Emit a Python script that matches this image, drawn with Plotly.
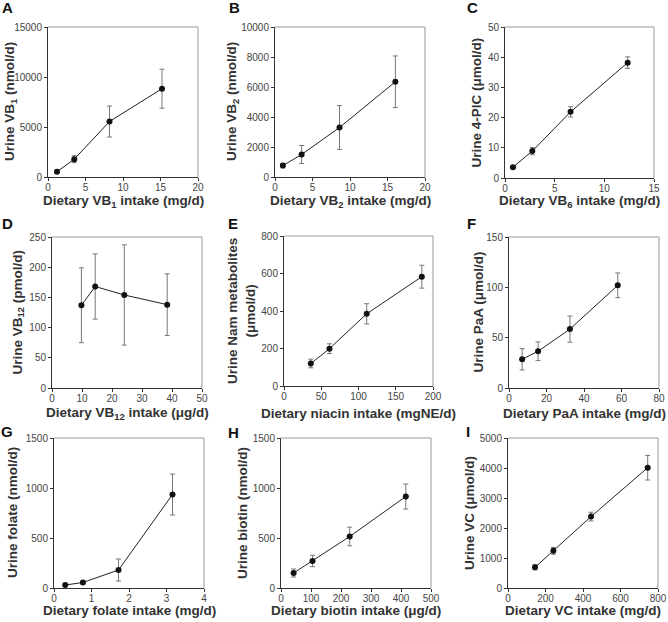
import plotly.graph_objects as go

W, H = 668, 622

# ---------------- data ----------------
a_x = [1.2, 3.5, 8.2, 15.2]
a_y = [530, 1780, 5550, 8830]
a_err = [150, 350, 1550, 1950]

b_x = [1.05, 3.55, 8.6, 16.05]
b_y = [760, 1500, 3300, 6350]
b_err = [150, 600, 1460, 1720]

c_x = [0.8, 2.75, 6.6, 12.35]
c_y = [3.6, 8.9, 21.9, 38.2]
c_err = [0.4, 1.2, 1.7, 1.9]

d_x = [9.8, 14.4, 24.1, 38.4]
d_y = [137, 168, 154, 138]
d_err = [62, 54, 83, 51]

e_x = [36, 61, 111, 185]
e_y = [120, 199, 385, 583]
e_err = [23, 26, 54, 61]

f_x = [7, 15.5, 32.5, 58]
f_y = [28.5, 36.5, 58.5, 102]
f_err = [10.6, 9.3, 13, 12.3]

g_x = [0.3, 0.77, 1.72, 3.16]
g_y = [30, 55, 180, 935]
g_err = [10, 12, 110, 205]

h_x = [42, 105, 229, 416]
h_y = [150, 270, 515, 915]
h_err = [40, 57, 93, 125]

i_x = [144, 242, 443, 745]
i_y = [690, 1240, 2380, 4010]
i_err = [85, 115, 145, 410]

letters = ["A", "B", "C", "D", "E", "F", "G", "H", "I"]
x_titles = [
    "Dietary VB<sub>1</sub> intake (mg/d)",
    "Dietary VB<sub>2</sub> intake (mg/d)",
    "Dietary VB<sub>6</sub> intake (mg/d)",
    "Dietary VB<sub>12</sub> intake (μg/d)",
    "Dietary niacin intake (mgNE/d)",
    "Dietary PaA intake (mg/d)",
    "Dietary folate intake (mg/d)",
    "Dietary biotin intake (μg/d)",
    "Dietary VC intake (mg/d)",
]
y_titles = [
    "Urine VB<sub>1</sub> (nmol/d)",
    "Urine VB<sub>2</sub> (nmol/d)",
    "Urine 4-PIC (μmol/d)",
    "Urine VB<sub>12</sub> (pmol/d)",
    "Urine Nam metabolites<br>(μmol/d)",
    "Urine PaA (μmol/d)",
    "Urine folate (nmol/d)",
    "Urine biotin (nmol/d)",
    "Urine VC (μmol/d)",
]
x_ranges = [[0, 20], [0, 20], [0, 15], [0, 50], [0, 200], [0, 80], [0, 4], [0, 500], [0, 800]]
x_dticks = [5, 5, 5, 10, 50, 20, 1, 100, 200]
y_ranges = [[0, 15000], [0, 10000], [0, 50], [0, 250], [0, 800], [0, 150], [0, 1500], [0, 1500], [0, 5000]]
y_dticks = [5000, 2000, 10, 50, 200, 50, 500, 500, 1000]

series = [(a_x, a_y, a_err), (b_x, b_y, b_err), (c_x, c_y, c_err),
          (d_x, d_y, d_err), (e_x, e_y, e_err), (f_x, f_y, f_err),
          (g_x, g_y, g_err), (h_x, h_y, h_err), (i_x, i_y, i_err)]

# ---------------- layout geometry (pixels) ----------------
boxes = [  # left, right, top, bottom
    (48, 198, 27, 177), (275, 425, 27, 177), (505, 654, 27, 178),
    (52, 202, 237, 388), (284, 433, 236, 386), (509, 659, 237, 388),
    (54, 204, 438, 588), (281, 431, 438, 588), (508, 658, 438, 588),
]
ytitle_x = [10, 232, 476, 18, 241, 478, 12, 242, 469]
xtitle_y = [201, 201, 201, 413, 413, 413, 610, 610, 610]
letter_pos = [(7, 8), (234, 8), (472, 8), (7, 224), (233, 224), (471, 223),
              (7, 431), (233, 432), (468, 431)]

FONT = "Liberation Sans, Arial, sans-serif"

fig = go.Figure()
layout = dict(
    width=W, height=H, margin=dict(l=0, r=0, t=0, b=0, autoexpand=False),
    paper_bgcolor="white", plot_bgcolor="white", showlegend=False,
    font=dict(family=FONT, size=10, color="#444"),
)
annotations = []
shapes = []

for k in range(9):
    xs, ys, es = series[k]
    sfx = "" if k == 0 else str(k + 1)
    fig.add_trace(go.Scatter(
        x=xs, y=ys, mode="lines+markers",
        xaxis="x" + sfx, yaxis="y" + sfx,
        line=dict(color="#222", width=1),
        marker=dict(color="#111", size=6),
        error_y=dict(type="data", array=es, color="#777", thickness=1, width=2.5),
        cliponaxis=False,
    ))
    l, r, t, b = boxes[k]
    common = dict(showgrid=False, zeroline=False, showline=True, linecolor="#333",
                  linewidth=1, ticks="outside", ticklen=3, tickcolor="#333", automargin=False,
                  tickfont=dict(family=FONT, size=10, color="#444"), tickformat="d")
    layout["xaxis" + sfx] = dict(domain=[l / W, r / W], range=x_ranges[k], dtick=x_dticks[k],
                                 tick0=0, anchor="y" + sfx, ticklabelstandoff=-2, **common)
    layout["yaxis" + sfx] = dict(domain=[1 - b / H, 1 - t / H], range=y_ranges[k], dtick=y_dticks[k],
                                 tick0=0, anchor="x" + sfx, **common)
    # lighter top / right frame
    shapes.append(dict(type="line", xref="paper", yref="paper", x0=l / W, x1=r / W,
                       y0=1 - t / H, y1=1 - t / H, line=dict(color="#999", width=1)))
    shapes.append(dict(type="line", xref="paper", yref="paper", x0=r / W, x1=r / W,
                       y0=1 - t / H, y1=1 - b / H, line=dict(color="#999", width=1)))
    # axis titles
    annotations.append(dict(text="<b>" + x_titles[k] + "</b>",
                            xref="paper", yref="paper", x=(l + r) / 2 / W, y=1 - xtitle_y[k] / H,
                            xanchor="center", yanchor="middle", showarrow=False,
                            font=dict(family=FONT, size=13.5, color="#333")))
    annotations.append(dict(text="<b>" + y_titles[k] + "</b>", textangle=-90,
                            xref="paper", yref="paper", x=ytitle_x[k] / W, y=1 - (t + b) / 2 / H,
                            xanchor="center", yanchor="middle", showarrow=False,
                            font=dict(family=FONT, size=13.5, color="#333")))
    lx, ly = letter_pos[k]
    annotations.append(dict(text="<b>" + letters[k] + "</b>", xref="paper", yref="paper",
                            x=lx / W, y=1 - ly / H, xanchor="center", yanchor="middle",
                            showarrow=False, font=dict(family=FONT, size=15, color="#111")))

layout["annotations"] = annotations
layout["shapes"] = shapes
fig.update_layout(**layout)
fig.write_html("out.html", config={"displayModeBar": False},
               post_script="document.body.style.margin='0';document.body.style.overflow='hidden';")
